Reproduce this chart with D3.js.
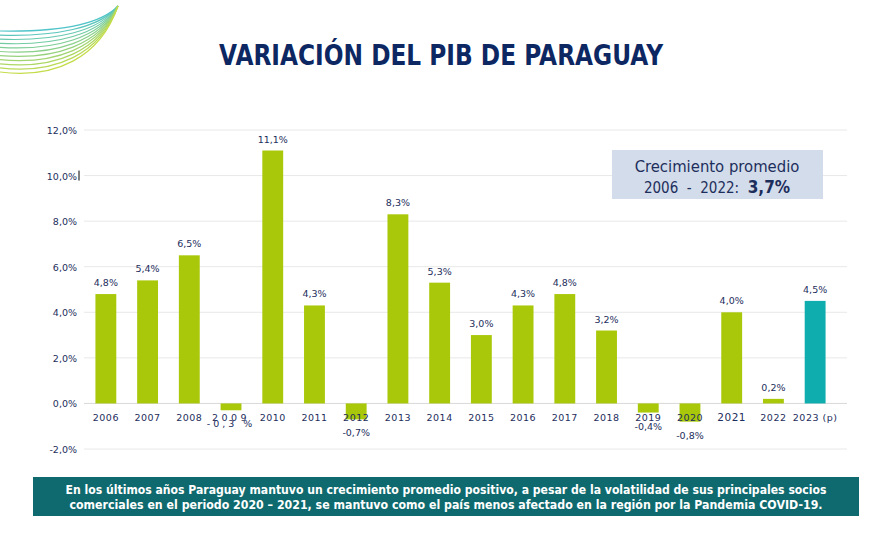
<!DOCTYPE html>
<html>
<head>
<meta charset="utf-8">
<script src="https://cdn.jsdelivr.net/npm/d3@7"></script>
<style>
  body { margin: 0; background: #fff; }
  svg text { font-family: "DejaVu Sans", Verdana, sans-serif; }
</style>
</head>
<body>
<div class="chart"></div>
<script>
// data
const years = ['2006','2007','2008','2009','2010','2011','2012','2013','2014','2015',
               '2016','2017','2018','2019','2020','2021','2022','2023 (p)'];
const growth = [4.8, 5.4, 6.5, -0.3, 11.1, 4.3, -0.7, 8.3, 5.3, 3.0,
                4.3, 4.8, 3.2, -0.4, -0.8, 4.0, 0.2, 4.5];
const yTicks = [-2, 0, 2, 4, 6, 8, 10, 12];
const projected = '2023 (p)';

const width = 884, height = 533;
const navy = '#1d2e5c';

let svg = d3.select('.chart')
    .append('svg')
    .attr('width', width)
    .attr('height', height);

// decorative swoosh, top left
const swooshColor = d3.scaleLinear().domain([0, 10]).range(['#4fc4c9', '#c5dc4a']);
for (let i = 0; i <= 10; i++) {
  let y0 = 31 + i * 4.1;
  svg.append('path')
    .attr('d', `M0,${y0} C55,${y0 + 1 + i * 0.6} 100,${y0 - 6 - i * 0.8} 118,6`)
    .attr('fill', 'none')
    .attr('stroke', swooshColor(i))
    .attr('stroke-width', 1.2);
}

// title
svg.append('text')
  .attr('x', 441)
  .attr('y', 65)
  .attr('text-anchor', 'middle')
  .attr('textLength', 444)
  .attr('lengthAdjust', 'spacingAndGlyphs')
  .style('font-weight', 'bold')
  .style('font-size', '29px')
  .style('fill', '#0c2762')
  .text('VARIACIÓN DEL PIB DE PARAGUAY');

const x = d3.scaleBand().domain(years).range([85, 836])
    .paddingInner(0.5).paddingOuter(0.25);
const y = d3.scaleLinear().domain([-2, 12]).range([449, 130]);

// grid
svg.selectAll('.grid')
  .data(yTicks)
  .enter().append('line')
  .attr('x1', 84).attr('x2', 847)
  .attr('y1', d => y(d)).attr('y2', d => y(d))
  .style('stroke', d => d === 0 ? '#d9d9d9' : '#e8e8e8')
  .style('stroke-width', 1);

// y labels
svg.selectAll('.ylab')
  .data(yTicks)
  .enter().append('text')
  .attr('x', 77)
  .attr('y', d => y(d) + 4)
  .attr('text-anchor', 'end')
  .style('font-size', '9.5px')
  .style('fill', navy)
  .text(d => d.toFixed(1).replace('.', ',') + '%');

// little cursor mark next to 10,0%
svg.append('line')
  .attr('x1', 79).attr('x2', 79)
  .attr('y1', y(10) - 5).attr('y2', y(10) + 5)
  .style('stroke', '#000').style('stroke-width', 1);

// bars
svg.selectAll('.bar')
  .data(years)
  .enter().append('rect')
  .attr('x', d => x(d))
  .attr('width', x.bandwidth())
  .attr('y', (d, i) => y(Math.max(0, growth[i])))
  .attr('height', (d, i) => Math.abs(y(growth[i]) - y(0)))
  .attr('fill', d => d === projected ? '#0fadad' : '#a9c80a');

// year labels
svg.selectAll('.xlab')
  .data(years)
  .enter().append('text')
  .attr('x', d => x(d) + x.bandwidth() / 2)
  .attr('y', 421)
  .attr('text-anchor', 'middle')
  .style('font-size', d => d === '2021' ? '10.5px' : '9.5px')
  .style('letter-spacing', d => d === '2009' ? '3.5px' : '0.5px')
  .style('fill', navy)
  .text(d => d);

// value labels
svg.selectAll('.vlab')
  .data(years)
  .enter().append('text')
  .attr('x', d => x(d) + x.bandwidth() / 2)
  .attr('y', (d, i) => growth[i] >= 0 ? y(growth[i]) - 8 : (d === '2009' ? 427 : y(growth[i]) + 17))
  .attr('text-anchor', 'middle')
  .style('font-size', '9.5px')
  .style('letter-spacing', d => d === '2009' ? '3px' : '0px')
  .style('fill', navy)
  .text((d, i) => {
    let s = growth[i].toFixed(1).replace('.', ',');
    return d === '2009' ? s + ' %' : s + '%';
  });

// average box
svg.append('rect')
  .attr('x', 612).attr('y', 150)
  .attr('width', 211).attr('height', 49)
  .attr('fill', '#d2dcea');

svg.append('text')
  .attr('x', 717).attr('y', 172)
  .attr('text-anchor', 'middle')
  .style('font-family', '"DejaVu Sans Condensed", "DejaVu Sans", sans-serif')
  .style('font-size', '16.5px')
  .style('fill', navy)
  .text('Crecimiento promedio');

let avg = svg.append('text')
  .attr('x', 717).attr('y', 193)
  .attr('text-anchor', 'middle')
  .style('font-family', '"DejaVu Sans Condensed", "DejaVu Sans", sans-serif')
  .style('font-size', '15px')
  .style('fill', navy)
  .attr('xml:space', 'preserve');
avg.append('tspan').text('2006  -  2022:  ');
avg.append('tspan').style('font-weight', 'bold').style('font-size', '17px').text('3,7%');

// bottom banner
svg.append('rect')
  .attr('x', 33).attr('y', 477)
  .attr('width', 826).attr('height', 39)
  .attr('fill', '#0e6a6e');

const bannerLines = [
  'En los últimos años Paraguay mantuvo un crecimiento promedio positivo, a pesar de la volatilidad de sus principales socios',
  'comerciales en el periodo 2020 – 2021, se mantuvo como el país menos afectado en la región por la Pandemia COVID-19.'
];
const bannerWidths = [761, 753];
svg.selectAll('.banner')
  .data(bannerLines)
  .enter().append('text')
  .attr('x', 446)
  .attr('y', (d, i) => 494 + i * 15)
  .attr('text-anchor', 'middle')
  .attr('textLength', (d, i) => bannerWidths[i])
  .attr('lengthAdjust', 'spacingAndGlyphs')
  .style('font-family', '"Liberation Sans Narrow", "DejaVu Sans Condensed", sans-serif')
  .style('font-weight', 'bold')
  .style('font-size', '13px')
  .style('fill', '#fff')
  .text(d => d);
</script>
</body>
</html>
